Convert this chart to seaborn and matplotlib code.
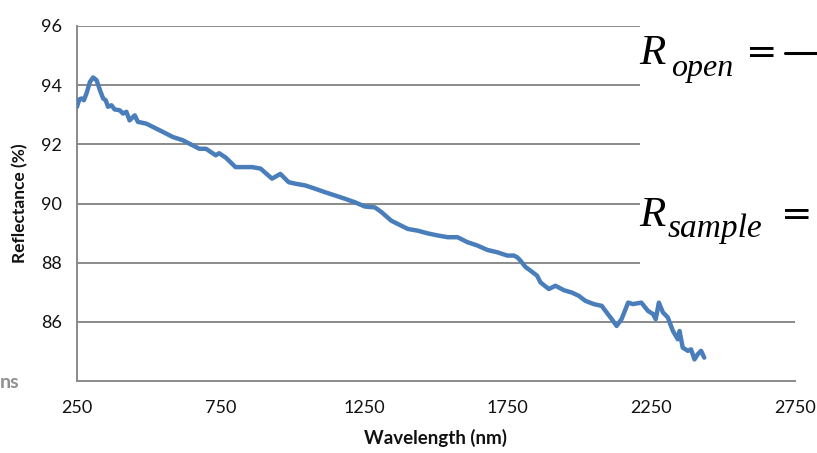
import matplotlib
matplotlib.use("Agg")
import matplotlib.pyplot as plt
import matplotlib.patches as mpatches
from matplotlib.lines import Line2D
import numpy as np
import pandas as pd
import seaborn as sns

# Reflectance spectrum (wavelength in nm, reflectance in %)
wavelength = [250, 258, 266, 274, 283, 295, 306, 318, 330, 341, 350, 358, 370, 381,
              399, 410, 422, 433, 451, 462, 491, 514, 549, 583, 618, 652, 676, 699,
              733, 745, 768, 802, 825, 860, 889, 929, 958, 987, 1010, 1045, 1079,
              1114, 1149, 1183, 1218, 1252, 1270, 1287, 1310, 1344, 1379, 1402, 1437,
              1471, 1506, 1541, 1575, 1610, 1644, 1679, 1714, 1748, 1771, 1783, 1794,
              1812, 1829, 1852, 1864, 1893, 1916, 1945, 1973, 1997, 2020, 2049, 2077,
              2094, 2112, 2129, 2146, 2169, 2186, 2215, 2238, 2256, 2265, 2276, 2290,
              2307, 2325, 2342, 2348, 2359, 2377, 2388, 2400, 2411, 2423, 2434]
reflectance = [93.27, 93.52, 93.55, 93.49, 93.72, 94.11, 94.26, 94.17, 93.83, 93.55,
               93.49, 93.27, 93.32, 93.18, 93.15, 93.04, 93.10, 92.81, 92.98, 92.76,
               92.70, 92.59, 92.42, 92.25, 92.14, 91.97, 91.85, 91.85, 91.63, 91.70,
               91.55, 91.23, 91.23, 91.23, 91.18, 90.84, 91.00, 90.72, 90.67, 90.61,
               90.50, 90.38, 90.27, 90.16, 90.04, 89.90, 89.88, 89.87, 89.71, 89.42,
               89.25, 89.14, 89.08, 88.99, 88.92, 88.86, 88.86, 88.69, 88.58, 88.43,
               88.35, 88.24, 88.24, 88.18, 88.07, 87.85, 87.73, 87.56, 87.33, 87.11,
               87.22, 87.07, 86.99, 86.88, 86.71, 86.60, 86.54, 86.32, 86.09, 85.86,
               86.09, 86.65, 86.60, 86.65, 86.37, 86.26, 86.09, 86.65, 86.32, 86.15,
               85.69, 85.41, 85.69, 85.13, 85.02, 85.07, 84.73, 84.90, 85.02, 84.79]

x_ticks = [250, 750, 1250, 1750, 2250, 2750]
y_ticks = [84, 86, 88, 90, 92, 94, 96]
y_tick_labels = ["", "86", "88", "90", "92", "94", "96"]

sns.set_theme(style="white")
plt.rcParams["font.family"] = ["Lato", "DejaVu Sans"]

W, H = 817, 453
fig = plt.figure(figsize=(W / 100, H / 100), dpi=100)
ax = fig.add_axes([77 / W, 1 - 381 / H, (795 - 77) / W, (381 - 26) / H])

df = pd.DataFrame({"Wavelength": wavelength, "Reflectance": reflectance})
grid_c = "#8a8a8a"
for v in y_ticks[1:]:
    ax.axhline(v, color=grid_c, lw=1.4, zorder=1)

sns.lineplot(data=df, x="Wavelength", y="Reflectance", ax=ax, color="#4a7ebb",
             lw=3.2, zorder=3, solid_joinstyle="round", solid_capstyle="round")

ax.set_xlim(250, 2750)
ax.set_ylim(84, 96)
ax.set_xticks(x_ticks)
ax.set_xticklabels([str(t) for t in x_ticks])
ax.set_yticks(y_ticks)
ax.set_yticklabels(y_tick_labels)
ax.tick_params(axis="both", direction="out", length=5, width=1.4, color=grid_c,
               labelsize=13, labelcolor="#111111")
ax.tick_params(axis="x", pad=9)
ax.tick_params(axis="y", pad=6)
for s in ["top", "right"]:
    ax.spines[s].set_visible(False)
for s in ["left", "bottom"]:
    ax.spines[s].set_color(grid_c)
    ax.spines[s].set_linewidth(1.4)

ax.set_xlabel("Wavelength (nm)", fontsize=13.5, fontweight="bold", color="#111111")
ax.set_ylabel("Reflectance (%)", fontsize=12.5, fontweight="bold", color="#111111")
ax.xaxis.set_label_coords(0.5, -0.135)
ax.yaxis.set_label_coords(-0.068, 0.5)

# Equation panel on the right side of the slide
fig.patches.append(mpatches.Rectangle((640 / W, 1 - 290 / H), (W - 640) / W, 290 / H,
                                      transform=fig.transFigure, facecolor="white",
                                      edgecolor="none", zorder=5))
serif = dict(family=["Liberation Serif", "DejaVu Serif"], color="black", zorder=6,
             ha="left", va="baseline")
eq = dict(family=["DejaVu Serif"], color="black", zorder=6, ha="left", va="baseline")


def fx(px):
    return px / W


def fy(py):
    return 1 - py / H


fig.text(fx(639), fy(64), "R", fontsize=31, style="italic", **serif)
fig.text(fx(671), fy(76), "open", fontsize=23, style="italic", **serif)
fig.text(fx(746), fy(64), "=", fontsize=27, **eq)
fig.lines.append(Line2D([fx(785), fx(817)], [fy(53), fy(53)], transform=fig.transFigure,
                        color="black", lw=2.2, zorder=6))

fig.text(fx(639), fy(226), "R", fontsize=31, style="italic", **serif)
fig.text(fx(668), fy(237), "sample", fontsize=24, style="italic", **serif)
fig.text(fx(781), fy(226), "=", fontsize=27, **eq)

fig.text(fx(0), fy(383), "ns", fontsize=14, fontweight="bold", color="#8f8f8f",
         ha="left", va="center")

fig.savefig("out.png", dpi=100)
